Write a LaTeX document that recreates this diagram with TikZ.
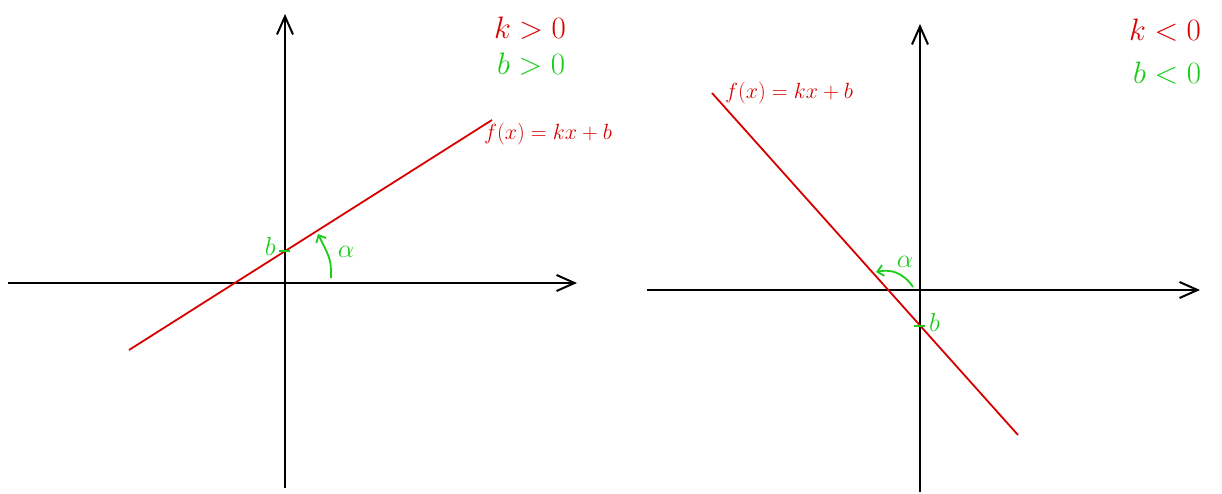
\documentclass[tikz,border=0pt]{standalone}
\usepackage{fix-cm}
\usepackage{tikz}
\usetikzlibrary{arrows.meta}
\definecolor{rojo}{RGB}{215,0,0}
\definecolor{verde}{RGB}{25,205,25}

\begin{document}
\begin{tikzpicture}[
    x=1pt,y=-1pt,
    axis/.style={line width=2pt,-{Straight Barb[length=18pt,width=16pt,line width=2pt]}},
    recta/.style={rojo,line width=1.8pt},
    tick/.style={verde,line width=2pt},
    ang/.style={verde,line width=1.8pt,-{Straight Barb[length=6pt,width=11pt,line width=1.8pt]}},
    cond/.style={inner sep=0pt,font=\fontsize{31}{33}\selectfont},
    etiq/.style={rojo,inner sep=0pt,font=\fontsize{22}{24}\selectfont},
    letra/.style={verde,inner sep=0pt,font=\fontsize{26}{28}\selectfont}
]
    \useasboundingbox (0,0) rectangle (1222,493);

    % k > 0, b > 0
    \coordinate (xizq1) at (8,283);
    \coordinate (xder1) at (577,283);
    \coordinate (yinf1) at (285,488);
    \coordinate (ysup1) at (285,14);
    \coordinate (ra1) at (129,350);
    \coordinate (rb1) at (492,120);
    \coordinate (ta1) at (279,251);
    \coordinate (tb1) at (290,251);
    \coordinate (aa1) at (331,278);
    \coordinate (ab1) at (318,234);

    \draw[axis] (xizq1) -- (xder1);
    \draw[axis] (yinf1) -- (ysup1);
    \draw[recta] (ra1) -- (rb1);
    \draw[tick] (ta1) -- (tb1);
    \draw[ang] (aa1) .. controls (331,260) .. (ab1);

    \node[letra,anchor=east] (b1) at (276,246) {$b$};
    \node[letra] (alfa1) at (346,252) {$\alpha$};
    \node[cond,rojo] (kpos) at (530,28) {$k>0$};
    \node[cond,verde] (bpos) at (531,64) {$b>0$};
    \node[etiq] (fizq) at (548,134) {$f(x)=kx+b$};

    % k < 0, b < 0
    \coordinate (xizq2) at (647,290);
    \coordinate (xder2) at (1200,290);
    \coordinate (yinf2) at (920,492);
    \coordinate (ysup2) at (920,24);
    \coordinate (ra2) at (712,93);
    \coordinate (rb2) at (1018,435);
    \coordinate (ta2) at (914,326);
    \coordinate (tb2) at (925,326);
    \coordinate (aa2) at (913,287);
    \coordinate (ab2) at (876,272);

    \draw[axis] (xizq2) -- (xder2);
    \draw[axis] (yinf2) -- (ysup2);
    \draw[recta] (ra2) -- (rb2);
    \draw[tick] (ta2) -- (tb2);
    \draw[ang] (aa2) .. controls (903,272) and (890,269) .. (ab2);

    \node[letra,anchor=west] (b2) at (929,322) {$b$};
    \node[letra] (alfa2) at (905,262) {$\alpha$};
    \node[cond,rojo] (kneg) at (1165,30) {$k<0$};
    \node[cond,verde] (bneg) at (1167,73) {$b<0$};
    \node[etiq] (fder) at (789,93) {$f(x)=kx+b$};
\end{tikzpicture}
\end{document}
